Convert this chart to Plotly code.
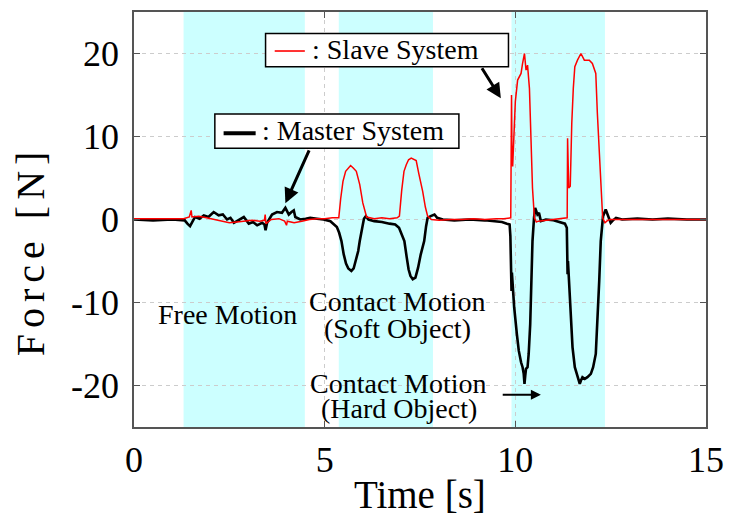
import plotly.graph_objects as go

# ---------------- data ----------------
time_master = [
    0.0, 0.5, 1.0, 1.33, 1.4, 1.47, 1.53, 1.6, 1.72, 1.83,
    1.95, 2.09, 2.22, 2.33, 2.44, 2.53, 2.62, 2.75, 2.88, 3.01,
    3.12, 3.23, 3.36, 3.42, 3.45, 3.49, 3.55, 3.62, 3.75, 3.88,
    3.97, 4.06, 4.13, 4.19, 4.23, 4.36, 4.5, 4.62, 4.8, 4.97,
    5.15, 5.26, 5.32, 5.38, 5.44, 5.5, 5.56, 5.62, 5.70, 5.76,
    5.82, 5.88, 5.92, 5.98, 6.03, 6.08, 6.15, 6.3, 6.5, 6.7,
    6.85, 6.95, 7.02, 7.09, 7.15, 7.2, 7.25, 7.31, 7.38, 7.45,
    7.52, 7.57, 7.61, 7.66, 7.7, 7.78, 7.88, 7.95, 8.1, 8.4,
    8.8, 9.2, 9.5, 9.65, 9.78, 9.85, 9.87, 9.89, 9.90, 9.91,
    9.93, 9.97, 10.04, 10.09, 10.15, 10.19, 10.22, 10.24, 10.26, 10.28,
    10.32, 10.35, 10.39, 10.42, 10.45, 10.49, 10.52, 10.58, 10.62, 10.67,
    10.8, 11.0, 11.2, 11.3, 11.35, 11.36, 11.37, 11.38, 11.41, 11.46,
    11.50, 11.56, 11.63, 11.69, 11.72, 11.76, 11.82, 11.89, 11.98, 12.04,
    12.11, 12.15, 12.20, 12.24, 12.3, 12.37, 12.42, 12.5, 12.56, 12.64,
    12.8, 13.2, 13.6, 14.0, 14.5, 15.0,
]
force_master = [
    0.0, -0.1, 0.0, -0.1, -0.5, -0.8, -0.3, 0.3, 0.1, 0.5,
    0.3, 0.9, 0.5, 0.6, 0.0, 0.2, -0.4, -0.1, 0.3, -0.5,
    -0.3, -0.7, -0.4, -0.6, -1.3, -0.4, 0.1, 0.6, 0.9, 0.8,
    1.4, 0.6, 0.9, 1.1, 0.3, 0.0, 0.1, 0.2, 0.1, 0.0,
    -0.2, -0.6, -0.9, -1.6, -2.6, -4.2, -5.3, -5.9, -6.2, -5.9,
    -5.0, -3.8, -2.6, -1.0, 0.1, 0.4, 0.0, -0.2, -0.3, -0.5,
    -0.6, -1.0, -1.8, -2.6, -4.5, -6.0, -6.8, -7.2, -7.0, -5.8,
    -4.2, -3.2, -2.6, -0.8, 0.2, 0.4, 0.6, 0.2, 0.0, -0.1,
    0.0, -0.1, -0.2, -0.3, -0.5, -0.6, -2.0, -5.5, -8.6, -6.4,
    -8.0, -10.6, -13.8, -15.8, -17.2, -17.8, -18.6, -19.8, -18.8, -18.0,
    -17.8, -16.2, -12.6, -7.4, -2.6, 0.2, 1.4, 0.6, 0.8, -0.2,
    0.0, -0.1, -0.4, -0.5, -1.0, -2.6, -6.6, -5.0, -7.4, -11.8,
    -15.4, -17.8, -19.0, -19.8, -19.4, -19.0, -19.2, -19.0, -18.6, -17.8,
    -16.2, -12.6, -7.4, -2.6, 0.4, 1.2, 0.6, -0.4, -0.1, 0.2,
    0.0, 0.1, 0.0, 0.1, 0.0, 0.0,
]

time_slave = [
    0.0, 1.0, 1.3, 1.45, 1.5, 1.52, 1.7, 1.9, 2.1, 2.3,
    2.5, 2.7, 2.9, 3.1, 3.3, 3.42, 3.44, 3.46, 3.6, 3.8,
    3.95, 4.0, 4.02, 4.2, 4.4, 4.6, 4.8, 5.0, 5.2, 5.37,
    5.42, 5.48, 5.55, 5.62, 5.68, 5.75, 5.83, 5.92, 6.0, 6.1,
    6.3, 6.5, 6.7, 6.9, 6.96, 7.02, 7.08, 7.14, 7.2, 7.27,
    7.34, 7.4, 7.47, 7.57, 7.64, 7.7, 7.8, 8.0, 8.3, 8.6,
    8.9, 9.2, 9.5, 9.7, 9.88, 9.90, 9.91, 9.93, 9.97, 10.0,
    10.06, 10.15, 10.19, 10.24, 10.28, 10.32, 10.37, 10.41, 10.45, 10.5,
    10.55, 10.6, 10.8, 11.0, 11.2, 11.36, 11.37, 11.38, 11.40, 11.44,
    11.46, 11.48, 11.52, 11.56, 11.63, 11.72, 11.81, 11.94, 12.02, 12.07,
    12.11, 12.15, 12.22, 12.29, 12.35, 12.42, 12.5, 12.7, 13.0, 13.5,
    14.0, 14.5, 15.0,
]
force_slave = [
    0.1, 0.1, 0.1, 0.3, 1.1, 0.3, 0.4, 0.2, 0.0, -0.2,
    -0.4, -0.3, -0.2, -0.1, -0.2, -0.1, 0.6, -0.5, 0.0, 0.1,
    -0.2, -0.7, -0.2, -0.4, -0.2, 0.0, 0.1, 0.1, 0.2, 0.2,
    2.5, 4.6, 5.8, 6.2, 6.5, 6.2, 5.8, 4.2, 2.0, 0.3,
    0.1, 0.2, 0.1, 0.2, 0.4, 3.5, 5.8, 6.6, 7.2, 7.4,
    7.2, 7.1, 5.5, 3.4, 1.5, 0.4, 0.0, -0.1, 0.0, 0.0,
    0.1, 0.0, 0.1, 0.1, 0.2, 15.0, 9.0, 6.4, 11.0, 14.2,
    16.8, 17.6, 18.8, 20.0, 18.0, 18.6, 15.8, 10.2, 3.8, 0.2,
    -0.3, -0.2, -0.1, 0.0, 0.1, 0.2, 9.8, 6.0, 3.8, 4.0,
    10.2, 11.6, 15.8, 18.4, 19.2, 20.0, 19.2, 19.2, 18.8, 18.0,
    17.6, 12.9, 6.2, 0.2, -0.4, -0.1, 0.0, 0.0, 0.0, 0.0,
    0.0, 0.0, 0.0,
]

phase_starts = [1.3, 5.37, 9.9]
phase_ends = [4.48, 7.84, 12.35]

x_ticks = [0, 5, 10, 15]
x_tick_labels = ["0", "5", "10", "15"]
y_ticks = [-20, -10, 0, 10, 20]
y_tick_labels = ["-20", "-10", "0", "10", "20"]

series_names = ["Master System", "Slave System"]

# ---------------- figure ----------------
SERIF = "Liberation Serif, Times New Roman, serif"

fig = go.Figure()
fig.add_trace(go.Scatter(x=time_master, y=force_master, mode="lines",
                         name=series_names[0],
                         line=dict(color="black", width=2.6)))
fig.add_trace(go.Scatter(x=time_slave, y=force_slave, mode="lines",
                         name=series_names[1],
                         line=dict(color="#ff0000", width=1.5)))

shapes = []
for s, e in zip(phase_starts, phase_ends):
    shapes.append(dict(type="rect", xref="x", yref="paper", x0=s, x1=e,
                       y0=0, y1=1, fillcolor="#ccffff",
                       line=dict(width=0), layer="below"))
# legend-like boxes
shapes.append(dict(type="rect", xref="x", yref="y", x0=3.45, x1=9.82,
                   y0=18.4, y1=22.4, fillcolor="white",
                   line=dict(color="black", width=1.5), layer="above"))
shapes.append(dict(type="line", xref="x", yref="y", x0=3.69, x1=4.48,
                   y0=20.3, y1=20.3, line=dict(color="#ff0000", width=1.6),
                   layer="above"))
shapes.append(dict(type="rect", xref="x", yref="y", x0=2.12, x1=8.52,
                   y0=8.59, y1=12.72, fillcolor="white",
                   line=dict(color="black", width=1.5), layer="above"))
shapes.append(dict(type="line", xref="x", yref="y", x0=2.35, x1=3.19,
                   y0=10.39, y1=10.39, line=dict(color="black", width=4),
                   layer="above"))

ann_font = dict(family=SERIF, size=28, color="black")
annotations = [
    dict(x=4.62, y=20.45, xref="x", yref="y", text=": " + series_names[1],
         showarrow=False, xanchor="left", yanchor="middle", font=ann_font),
    dict(x=3.30, y=10.75, xref="x", yref="y", text=": " + series_names[0],
         showarrow=False, xanchor="left", yanchor="middle", font=ann_font),
    dict(x=2.45, y=-11.5, xref="x", yref="y", text="Free Motion",
         showarrow=False, font=ann_font),
    dict(x=6.91, y=-9.9, xref="x", yref="y", text="Contact Motion",
         showarrow=False, font=ann_font),
    dict(x=6.91, y=-13.1, xref="x", yref="y", text="(Soft Object)",
         showarrow=False, font=ann_font),
    dict(x=6.94, y=-19.8, xref="x", yref="y", text="Contact Motion",
         showarrow=False, font=ann_font),
    dict(x=6.94, y=-22.8, xref="x", yref="y", text="(Hard Object)",
         showarrow=False, font=ann_font),
    # arrows
    dict(x=9.62, y=14.6, ax=9.10, ay=18.4, xref="x", yref="y",
         axref="x", ayref="y", text="", showarrow=True, arrowhead=2,
         arrowsize=1, arrowwidth=3, arrowcolor="black"),
    dict(x=3.97, y=1.96, ax=4.61, ay=8.5, xref="x", yref="y",
         axref="x", ayref="y", text="", showarrow=True, arrowhead=2,
         arrowsize=1, arrowwidth=3, arrowcolor="black"),
    dict(x=10.67, y=-21.1, ax=9.63, ay=-21.1, xref="x", yref="y",
         axref="x", ayref="y", text="", showarrow=True, arrowhead=2,
         arrowsize=1, arrowwidth=2, arrowcolor="black"),
    # y axis title
    dict(x=-0.1815, y=0.424, xref="paper", yref="paper", text="Force [N]",
         textangle=-90, showarrow=False, xanchor="center", yanchor="middle",
         font=dict(family=SERIF, size=40, color="black")),
    # x axis title
    dict(x=0.5, y=-0.162, xref="paper", yref="paper", text="Time [s]",
         showarrow=False, xanchor="center", yanchor="middle",
         font=dict(family=SERIF, size=39, color="black")),
]

axis_common = dict(
    showline=True, linecolor="#555555", linewidth=1.5, mirror="ticks",
    ticks="inside", ticklen=6, tickcolor="#555555", tickwidth=1,
    showgrid=True, gridcolor="#cccccc", gridwidth=1, griddash="4px,4px",
    zeroline=False, tickfont=dict(family=SERIF, size=36, color="black"),
)

fig.update_layout(
    width=734, height=516,
    margin=dict(l=134, r=27, t=10, b=89),
    paper_bgcolor="white", plot_bgcolor="white",
    showlegend=False,
    shapes=shapes, annotations=annotations,
    xaxis=dict(range=[0, 15], tickvals=x_ticks, ticktext=x_tick_labels,
               **axis_common),
    yaxis=dict(range=[-25, 25], tickvals=y_ticks, ticktext=y_tick_labels,
               ticklabelstandoff=6, **axis_common),
)

post = """
document.body.style.margin = '0';
document.querySelectorAll('.annotation-text').forEach(function(el){
  if (el.textContent === 'Force [N]') { el.style.letterSpacing = '6px'; }
});
"""

fig.write_html("out.html", post_script=post,
               config={"displayModeBar": False})
